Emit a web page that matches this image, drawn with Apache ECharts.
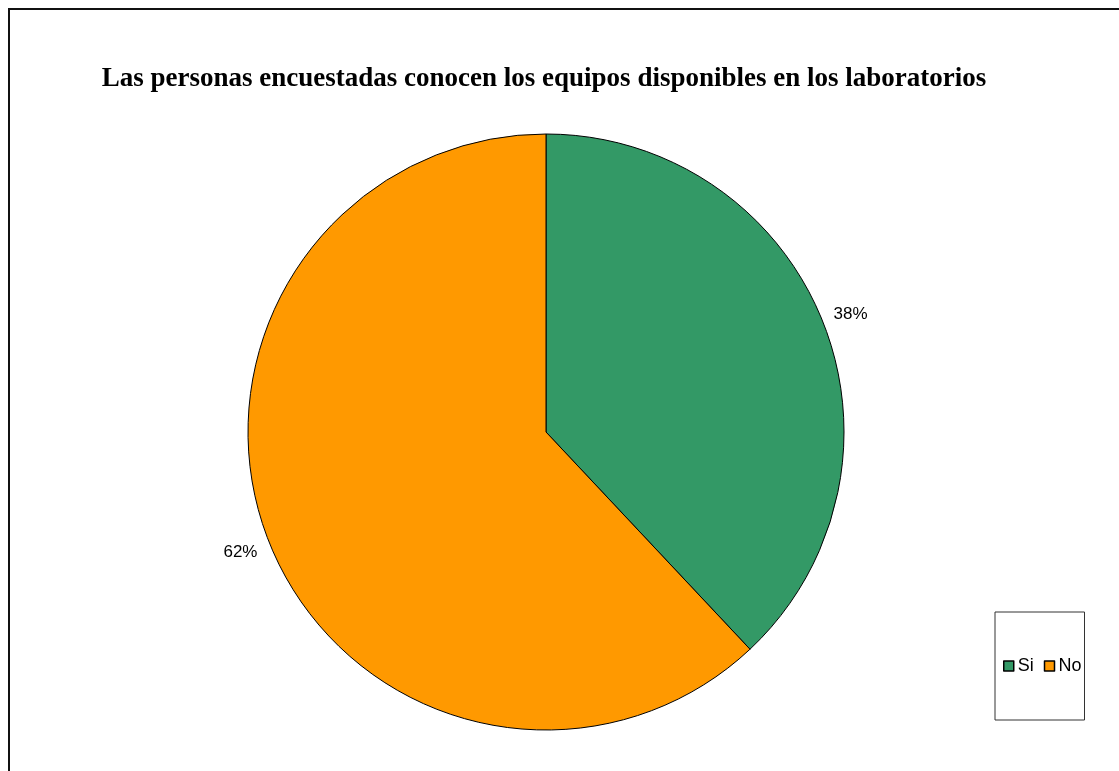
<!DOCTYPE html>
<html>
<head>
<meta charset="utf-8">
<script src="https://cdn.jsdelivr.net/npm/echarts@6/dist/echarts.min.js"></script>
<style>
  html, body { margin: 0; padding: 0; background: #fff; }
  #chart { width: 1119px; height: 771px; }
</style>
</head>
<body>
<div id="chart"></div>
<script>
var categories = ['Si', 'No'];
var values = [38, 62];
var colors = ['#339966', '#FF9900'];
// pequeño ajuste de las etiquetas
var labelOffsets = [[-4, -5], [3, 8]];

var chart = echarts.init(document.getElementById('chart'));
chart.setOption({
	animation: false,
	title: {
		text: 'Las personas encuestadas conocen los equipos disponibles en los laboratorios',
		left: 539,
		textAlign: 'center',
		top: 61,
		textStyle: {
			fontFamily: 'Liberation Serif',
			fontSize: 27,
			fontWeight: 'bold',
			color: '#000'
		}
	},
	// marco exterior
	graphic: [{
		type: 'rect',
		shape: { x: 9, y: 9, width: 1200, height: 900 },
		style: { fill: null, stroke: '#111', lineWidth: 2 }
	}],
	legend: {
		data: categories,
		orient: 'horizontal',
		left: 995,
		top: 612,
		padding: [45, 3, 45, 8],
		borderColor: '#333',
		borderWidth: 1,
		itemWidth: 10,
		itemHeight: 10,
		itemGap: 10,
		icon: 'rect',
		itemStyle: { borderColor: '#000', borderWidth: 1.5 },
		textStyle: {
			fontFamily: 'Liberation Sans',
			fontSize: 18,
			color: '#000',
			padding: [0, 0, 0, -1]
		}
	},
	series: [{
		type: 'pie',
		center: [546, 432],
		radius: 298,
		startAngle: 90,
		clockwise: true,
		data: categories.map(function(c, i) {
			return {
				name: c,
				value: values[i],
				itemStyle: { color: colors[i] },
				label: { offset: labelOffsets[i] }
			};
		}),
		itemStyle: { borderColor: '#000', borderWidth: 1 },
		emphasis: { disabled: true },
		label: {
			show: true,
			position: 'outside',
			formatter: '{d}%',
			fontFamily: 'Liberation Sans',
			fontSize: 17,
			color: '#000'
		},
		labelLine: { show: false, length: 8, length2: 2 }
	}]
});
</script>
</body>
</html>
